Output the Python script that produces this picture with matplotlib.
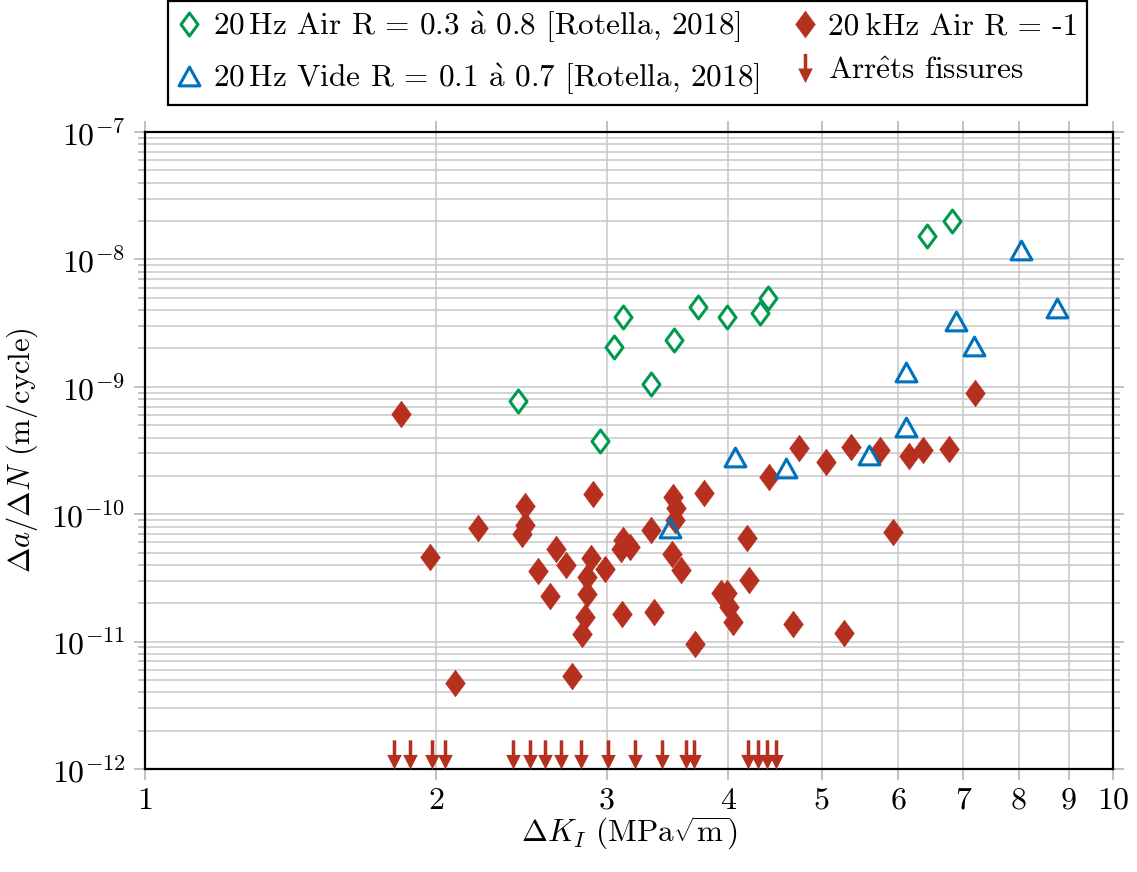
import numpy as np
import matplotlib
matplotlib.use('Agg')
import matplotlib.pyplot as plt
from matplotlib.path import Path
from matplotlib.lines import Line2D

plt.rcParams['font.family'] = ['cmr10', 'DejaVu Serif']
plt.rcParams['mathtext.fontset'] = 'cm'
plt.rcParams['axes.formatter.use_mathtext'] = True
plt.rcParams['axes.unicode_minus'] = False

# 20 Hz air, R = 0.3 to 0.8 (Rotella 2018)
air20_dk = [2.43, 2.95, 3.05, 3.12, 3.33, 3.52, 3.73, 3.99, 4.32, 4.40, 6.43, 6.82]
air20_dadn = [7.7e-10, 3.75e-10, 2.05e-9, 3.55e-9, 1.05e-9, 2.33e-9, 4.2e-9,
              3.55e-9, 3.8e-9, 4.95e-9, 1.53e-8, 2.0e-8]

# 20 Hz vacuum, R = 0.1 to 0.7 (Rotella 2018)
vac20_dk = [3.49, 4.07, 4.60, 5.60, 6.11, 6.11, 6.88, 7.18, 8.03, 8.75]
vac20_dadn = [7.8e-11, 2.8e-10, 2.3e-10, 2.9e-10, 4.85e-10, 1.31e-9, 3.3e-9,
              2.1e-9, 1.19e-8, 4.15e-9]

# 20 kHz air, R = -1
khz_dk = [1.84, 1.97, 2.09, 2.21, 2.47, 2.47, 2.45, 2.90, 2.66, 2.72,
          2.55, 2.62, 2.89, 2.86, 2.99, 2.86, 2.85, 2.83, 2.76, 3.12,
          3.17, 3.10, 3.11, 3.36, 3.33, 3.51, 3.54, 3.53, 3.50, 3.58,
          3.78, 3.94, 3.99, 4.01, 4.05, 4.19, 4.21, 4.41, 4.67, 4.74,
          5.05, 5.28, 5.36, 5.74, 5.93, 6.16, 6.36, 6.77, 7.21, 3.70]
khz_dadn = [6.1e-10, 4.6e-11, 4.7e-12, 7.8e-11, 1.16e-10, 8.2e-11, 7.0e-11, 1.44e-10, 5.3e-11, 4.0e-11,
            3.6e-11, 2.3e-11, 4.55e-11, 3.2e-11, 3.7e-11, 2.37e-11, 1.57e-11, 1.15e-11, 5.4e-12, 6.3e-11,
            5.5e-11, 5.3e-11, 1.64e-11, 1.7e-11, 7.5e-11, 1.37e-10, 1.11e-10, 9.0e-11, 4.9e-11, 3.65e-11,
            1.46e-10, 2.4e-11, 2.4e-11, 1.88e-11, 1.43e-11, 6.5e-11, 3.05e-11, 1.96e-10, 1.37e-11, 3.3e-10,
            2.55e-10, 1.17e-11, 3.4e-10, 3.2e-10, 7.2e-11, 2.85e-10, 3.2e-10, 3.25e-10, 9.0e-10, 9.5e-12]

# crack arrests (no propagation), drawn at the bottom of the axis
arrest_dk = [1.81, 1.88, 1.98, 2.04, 2.40, 2.50, 2.59, 2.69, 2.82, 3.01,
             3.21, 3.42, 3.62, 3.69, 4.20, 4.30, 4.39, 4.49]
arrest_dadn = [1e-12] * len(arrest_dk)

x_ticks = [1, 2, 3, 4, 5, 6, 7, 8, 9, 10]
x_ticklabels = ['1', '2', '3', '4', '5', '6', '7', '8', '9', '10']

red = '#b5301f'
green = '#009a4e'
blue = '#0071bc'

# marker shapes
diamond = Path([(0, 1), (0.74, 0), (0, -1), (-0.74, 0), (0, 1)],
               [Path.MOVETO, Path.LINETO, Path.LINETO, Path.LINETO, Path.CLOSEPOLY])
triangle = Path([(0, 0.9), (1, -0.9), (-1, -0.9), (0, 0.9)],
                [Path.MOVETO, Path.LINETO, Path.LINETO, Path.CLOSEPOLY])
arrow_pts = [(-0.06, 1), (0.06, 1), (0.06, 0.5), (0.25, 0.5), (0, 0),
             (-0.25, 0.5), (-0.06, 0.5), (-0.06, 1)]
arrow_codes = [Path.MOVETO] + [Path.LINETO] * 6 + [Path.CLOSEPOLY]
arrow = Path(arrow_pts, arrow_codes)
arrow_c = Path([(x, y - 0.5) for x, y in arrow_pts], arrow_codes)

fig = plt.figure(figsize=(11.37, 8.72), dpi=100)
ax = fig.add_axes([0.1275, 0.1181, 0.8513, 0.7305])
ax.set_xscale('log')
ax.set_yscale('log')

ax.plot(khz_dk, khz_dadn, ls='none', marker=diamond, ms=19, mfc=red, mec=red, mew=0.5, zorder=3)
ax.plot(air20_dk, air20_dadn, ls='none', marker=diamond, ms=16.5, mfc='white', mec=green, mew=2.2, zorder=4)
ax.plot(vac20_dk, vac20_dadn, ls='none', marker=triangle, ms=15, mfc='none', mec=blue, mew=2.2, zorder=4)
ax.plot(arrest_dk, arrest_dadn, ls='none', marker=arrow, ms=42, mfc=red, mec=red, mew=0, zorder=5,
        clip_on=False)

ax.set_xlim(1, 10)
ax.set_ylim(1e-12, 1e-7)
ax.set_xticks(x_ticks, x_ticklabels)
ax.xaxis.set_minor_locator(matplotlib.ticker.NullLocator())
ax.yaxis.set_minor_locator(matplotlib.ticker.LogLocator(base=10, subs=np.arange(2, 10)))
ax.yaxis.set_minor_formatter(matplotlib.ticker.NullFormatter())

ax.grid(True, which='major', color='#c8c8c8', lw=1.1)
ax.grid(True, which='minor', axis='y', color='#c8c8c8', lw=1.1)
ax.set_axisbelow(True)
ax.tick_params(which='both', direction='out', color='#b0b0b0', width=1.1,
               labelsize=23, top=True, right=True)
ax.tick_params(which='major', length=8)
ax.tick_params(which='minor', length=5)
ax.tick_params(axis='x', pad=5)
ax.tick_params(axis='y', pad=6)
for s in ax.spines.values():
    s.set_linewidth(1.6)

ax.set_xlabel(r'$\Delta K_I$ (MPa$\sqrt{\mathrm{m}}$)', fontsize=22.5, labelpad=0)
ax.set_ylabel(r'$\Delta a/\Delta N$ (m/cycle)', fontsize=22, labelpad=8)

handles = [
    Line2D([], [], ls='none', marker=diamond, ms=16.5, mfc='white', mec=green, mew=2.2),
    Line2D([], [], ls='none', marker=triangle, ms=15, mfc='none', mec=blue, mew=2.2),
    Line2D([], [], ls='none', marker=diamond, ms=19, mfc=red, mec=red, mew=0.5),
    Line2D([], [], ls='none', marker=arrow_c, ms=21, mfc=red, mec=red, mew=0),
]
labels = [
    '20$\\,$Hz Air R = 0.3 $\\mathrm{\\grave{a}}$ 0.8 [Rotella, 2018]',
    '20$\\,$Hz Vide R = 0.1 $\\mathrm{\\grave{a}}$ 0.7 [Rotella, 2018]',
    '20\u2009kHz Air R = -1',
    'Arr$\\mathrm{\\hat{e}}$ts fissures',
]
leg = fig.legend(handles, labels, ncol=2, loc='upper center', bbox_to_anchor=(0.552, 0.999),
                 fontsize=22.5, frameon=True, fancybox=False, edgecolor='black', framealpha=1,
                 handlelength=0.8, handletextpad=0.35, columnspacing=1.05, borderpad=0.28,
                 labelspacing=0.5, borderaxespad=0)
leg.get_frame().set_linewidth(1.6)

fig.savefig('out.png', dpi=100)
